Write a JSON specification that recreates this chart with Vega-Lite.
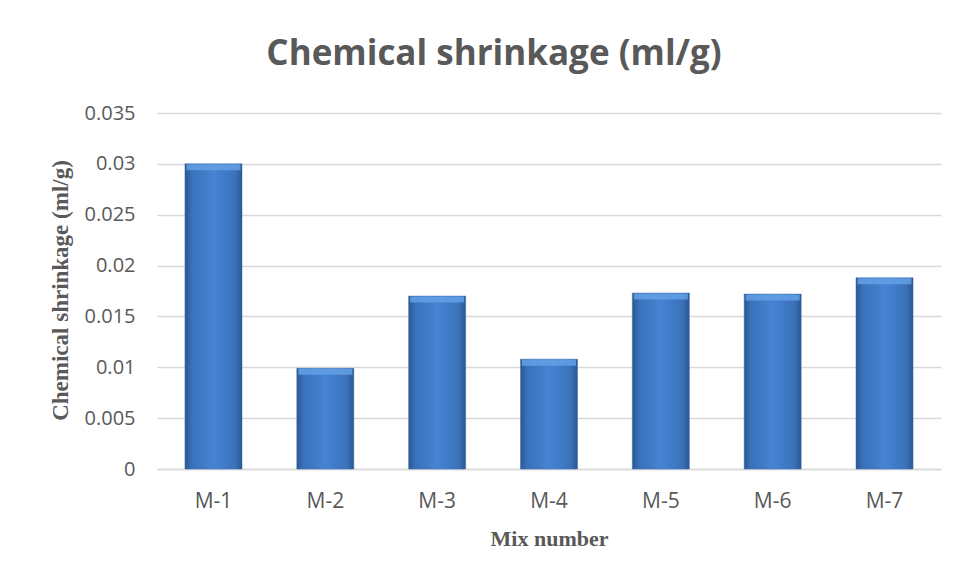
{
  "$schema": "https://vega.github.io/schema/vega-lite/v6.json",
  "width": 784,
  "height": 356,
  "autosize": "none",
  "padding": {"left": 157, "top": 113, "right": 16, "bottom": 110},
  "background": "white",
  "title": {
    "text": "Chemical shrinkage (ml/g)",
    "font": "Open Sans",
    "fontSize": 35,
    "fontWeight": "bold",
    "color": "#595959",
    "anchor": "middle",
    "dx": -55,
    "offset": 31
  },
  "data": {
    "values": [
      {"mix": "M-1", "value": 0.0300},
      {"mix": "M-2", "value": 0.0099},
      {"mix": "M-3", "value": 0.0170},
      {"mix": "M-4", "value": 0.0108},
      {"mix": "M-5", "value": 0.0173},
      {"mix": "M-6", "value": 0.0172},
      {"mix": "M-7", "value": 0.0188}
    ]
  },
  "encoding": {
    "x": {
      "field": "mix",
      "type": "nominal",
      "sort": null,
      "scale": {"paddingInner": 0.49, "paddingOuter": 0.25},
      "axis": {
        "title": "Mix number",
        "titleFont": "Liberation Serif",
        "titleFontSize": 22,
        "titleFontWeight": "bold",
        "titleColor": "#595959",
        "titlePadding": 17,
        "labelFont": "Open Sans",
        "labelFontSize": 21,
        "labelColor": "#595959",
        "labelAngle": 0,
        "labelPadding": 21,
        "ticks": false,
        "domain": true,
        "domainColor": "#d9d9d9",
        "domainWidth": 1.5
      }
    },
    "y": {
      "field": "value",
      "type": "quantitative",
      "scale": {"domain": [0, 0.035], "nice": false},
      "axis": {
        "title": "Chemical shrinkage (ml/g)",
        "titleFont": "Liberation Serif",
        "titleFontSize": 23,
        "titleFontWeight": "bold",
        "titleColor": "#595959",
        "titleX": -97,
        "titleY": 177,
        "titleAngle": -90,
        "titleAlign": "center",
        "titleBaseline": "middle",
        "values": [0, 0.005, 0.01, 0.015, 0.02, 0.025, 0.03, 0.035],
        "labelExpr": "datum.value == 0 ? '0' : format(datum.value, '.3~f')",
        "labelFont": "Open Sans",
        "labelFontSize": 20,
        "labelColor": "#595959",
        "labelPadding": 22,
        "ticks": false,
        "domain": false,
        "grid": true,
        "gridColor": "#d9d9d9",
        "gridWidth": 1.5
      }
    }
  },
  "layer": [
    {
      "mark": {
        "type": "bar",
        "color": {
          "gradient": "linear",
          "x1": 0, "x2": 1, "y1": 0, "y2": 0,
          "stops": [
            {"offset": 0, "color": "#2b578d"},
            {"offset": 0.12, "color": "#3a72ba"},
            {"offset": 0.5, "color": "#4683d3"},
            {"offset": 0.88, "color": "#3a72ba"},
            {"offset": 1, "color": "#2b578d"}
          ]
        },
        "stroke": "#3a6fb5",
        "strokeWidth": 0.5
      }
    },
    {
      "mark": {
        "type": "tick",
        "orient": "horizontal",
        "thickness": 6,
        "yOffset": 3.5,
        "size": 54,
        "color": "#63a0e6",
        "opacity": 0.85
      },
      "encoding": {"y": {"field": "value", "type": "quantitative"}}
    }
  ],
  "config": {"view": {"stroke": null}}
}
